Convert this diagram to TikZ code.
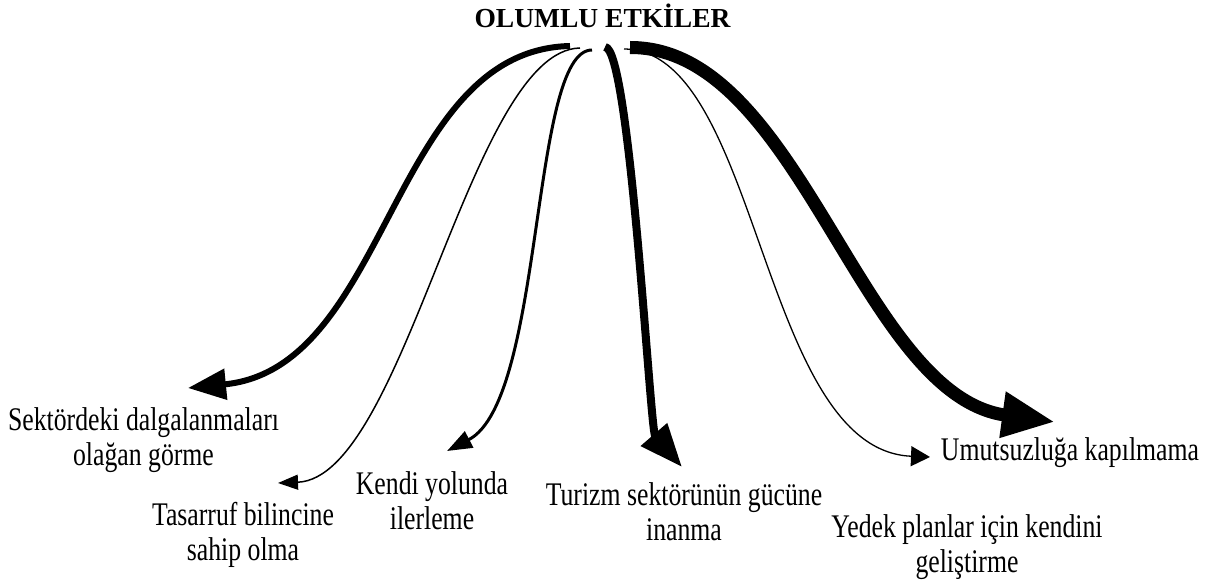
\documentclass[tikz,border=0pt]{standalone}
\usepackage{fontspec}
\setmainfont{Liberation Serif}
\newfontfamily\lblfont[FakeStretch=0.78]{Liberation Serif}
\usetikzlibrary{arrows.meta}
\begin{document}
\begin{tikzpicture}[x=1pt,y=-1pt,
  lbl/.style={font=\lblfont\fontsize{33}{35}\selectfont, align=center, inner sep=0pt, anchor=base},
  ttl/.style={font=\bfseries\fontsize{27.5}{30}\selectfont, inner sep=0pt, anchor=base},
  con/.style={line cap=butt, line join=round}]
\useasboundingbox (0,0) rectangle (1209,585);
\node[ttl] (title) at (602.5,28) {OLUMLU ETKİLER};
% anchor=base of a two-line node is the baseline of its last line
\node[lbl] (l1) at (143.5,465) {Sektördeki dalgalanmaları\\olağan görme};
\node[lbl] (l2) at (243,560) {Tasarruf bilincine\\sahip olma};
\node[lbl] (l3) at (432,529) {Kendi yolunda\\ilerleme};
\node[lbl] (l4) at (684,540) {Turizm sektörünün gücüne\\inanma};
\node[lbl] (l5) at (967,572) {Yedek planlar için kendini\\geliştirme};
\node[lbl] (l6) at (1070,460) {Umutsuzluğa kapılmama};
% start points under the title
\coordinate (s1) at (570,46);
\coordinate (s2) at (580,48);
\coordinate (s3) at (592,50);
\coordinate (s4) at (605,47);
\coordinate (s5) at (624,49);
\coordinate (s6) at (630,47.5);
% arrow tips
\coordinate (t1) at (188,388);
\coordinate (t2) at (278,483);
\coordinate (t3) at (447,451);
\coordinate (t4) at (682,467);
\coordinate (t5) at (930,457);
\coordinate (t6) at (1055,422);
\draw[con, line width=6pt, -{Triangle[length=38pt,width=30pt]}]
  (s1) .. controls (390,50) and (390,368) .. (t1);
\draw[con, line width=1.5pt, -{Triangle[length=20pt,width=15pt]}]
  (s2) .. controls (470,50) and (405,478) .. (t2);
\draw[con, line width=3pt, -{Triangle[length=25pt,width=18pt]}]
  (s3) .. controls (530,50) and (545,400) .. (t3);
\draw[con, line width=8pt, -{Triangle[length=43pt,width=33pt]}]
  (s4) .. controls (630,47) and (650,430) .. (t4);
\draw[con, line width=1.3pt, -{Triangle[length=19pt,width=20pt]}]
  (s5) .. controls (760,50) and (760,450) .. (t5);
\draw[con, line width=13pt, -{Triangle[length=53pt,width=43pt]}]
  (s6) .. controls (800,47) and (860,395) .. (t6);
\end{tikzpicture}
\end{document}
